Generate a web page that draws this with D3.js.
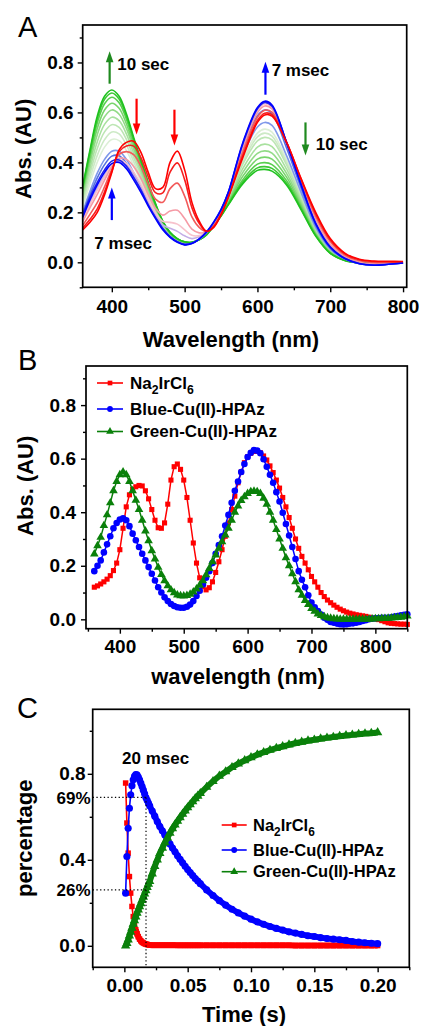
<!DOCTYPE html>
<html lang="en">
<head>
<meta charset="UTF-8">
<title>Cu(II)-HPAz spectra and kinetics</title>
<script src="https://cdn.jsdelivr.net/npm/d3@7"></script>
<style>
  body { margin: 0; background: #fff; }
</style>
</head>
<body>
<div id="container"></div>
<script>
// ---------------- panel A : spectra from 7 msec to 10 sec ----------------
const wavelengthsA = [360,370,380,390,400,410,420,430,440,450,460,470,480,490,500,510,520,530,540,550,560,580,600,610,620,640,660,680,700,720,740,760,780,800];

const specR1 = [.13,.16,.20,.27,.36,.45,.48,.485,.44,.36,.295,.30,.40,.445,.37,.24,.165,.125,.14,.19,.26,.42,.56,.59,.585,.48,.335,.20,.095,.037,.012,.005,.004,.003];
const specR2 = [.137,.172,.214,.282,.365,.443,.466,.465,.419,.342,.279,.278,.361,.398,.331,.219,.156,.124,.143,.193,.263,.428,.568,.597,.591,.48,.332,.194,.09,.034,.01,.003,.002,.002];
const specR3 = [.148,.192,.239,.302,.372,.432,.443,.431,.384,.313,.253,.24,.295,.317,.265,.182,.14,.123,.147,.197,.267,.441,.581,.609,.601,.48,.326,.184,.083,.029,.006,-.001,0,.001];
const specP4 = [.163,.219,.272,.329,.383,.417,.412,.384,.336,.272,.217,.189,.205,.208,.175,.133,.118,.122,.153,.203,.273,.459,.599,.626,.614,.48,.319,.171,.072,.023,0,-.006,-.004,-.001];
const specP5 = [.17,.232,.288,.342,.388,.41,.396,.361,.312,.252,.199,.164,.16,.153,.13,.108,.107,.121,.156,.206,.276,.468,.608,.634,.621,.48,.315,.164,.067,.019,-.002,-.009,-.006,-.002];
const specL6 = [.174,.239,.297,.349,.391,.406,.388,.349,.299,.241,.189,.15,.136,.124,.106,.095,.102,.121,.158,.208,.278,.473,.613,.638,.625,.48,.313,.16,.064,.018,-.004,-.01,-.007,-.002];
const specB1 = [.18,.25,.31,.36,.395,.40,.375,.33,.28,.225,.175,.13,.10,.08,.07,.075,.093,.12,.16,.21,.28,.48,.62,.645,.63,.48,.31,.155,.06,.015,-.006,-.012,-.008,-.003];
const specB2 = [.19,.26,.32,.37,.405,.41,.385,.34,.29,.23,.18,.135,.103,.083,.072,.076,.094,.122,.162,.212,.28,.475,.615,.64,.625,.478,.31,.156,.062,.016,-.005,-.011,-.008,-.003];
const specB3 = [.193,.27,.338,.391,.425,.427,.397,.347,.293,.235,.181,.134,.102,.082,.071,.076,.093,.119,.158,.207,.273,.459,.587,.61,.596,.458,.297,.148,.057,.014,-.006,-.011,-.007,-.003];
const specC1 = [.201,.284,.357,.412,.445,.445,.412,.359,.302,.241,.185,.136,.103,.083,.072,.076,.092,.118,.155,.202,.264,.429,.542,.56,.548,.427,.279,.139,.053,.013,-.005,-.01,-.006,-.003];
const specC2 = [.221,.316,.401,.461,.492,.487,.448,.386,.323,.256,.195,.142,.107,.085,.074,.077,.092,.117,.154,.20,.259,.412,.517,.533,.521,.41,.269,.134,.05,.012,-.004,-.009,-.006,-.003];
const specC3 = [.234,.336,.428,.491,.522,.514,.47,.403,.336,.266,.201,.145,.109,.086,.075,.077,.092,.116,.153,.198,.256,.402,.502,.517,.505,.40,.263,.131,.049,.011,-.004,-.008,-.006,-.003];
const specC4 = [.246,.356,.456,.522,.551,.54,.492,.42,.349,.275,.207,.149,.111,.088,.076,.078,.091,.115,.152,.197,.253,.393,.486,.50,.49,.39,.257,.128,.047,.011,-.004,-.008,-.005,-.002];
const specC5 = [.259,.376,.483,.552,.581,.567,.514,.437,.362,.285,.213,.152,.113,.089,.078,.078,.091,.114,.151,.194,.248,.376,.461,.473,.463,.373,.247,.123,.045,.01,-.003,-.007,-.005,-.002];
const specC6 = [.271,.396,.511,.583,.61,.593,.536,.454,.375,.294,.219,.156,.115,.091,.079,.079,.091,.113,.149,.192,.243,.36,.436,.446,.437,.356,.237,.118,.042,.009,-.003,-.006,-.004,-.002];
const specC7 = [.283,.414,.536,.61,.637,.617,.555,.469,.387,.303,.224,.159,.116,.092,.08,.079,.091,.112,.148,.189,.239,.345,.413,.421,.413,.341,.228,.114,.04,.008,-.003,-.005,-.004,-.002];
const specC8 = [.293,.43,.558,.635,.661,.639,.573,.483,.397,.311,.229,.162,.118,.094,.081,.08,.09,.111,.146,.187,.235,.331,.393,.399,.391,.327,.22,.11,.038,.008,-.002,-.005,-.004,-.002];
const specC9 = [.30,.442,.574,.653,.678,.654,.586,.493,.405,.316,.233,.164,.119,.094,.082,.08,.09,.11,.146,.186,.232,.322,.378,.383,.376,.317,.214,.107,.037,.007,-.002,-.004,-.003,-.002];
const specG = [.305,.45,.585,.665,.69,.665,.595,.50,.41,.32,.235,.165,.12,.095,.082,.08,.09,.11,.145,.185,.23,.315,.368,.372,.365,.31,.21,.105,.036,.007,-.002,-.004,-.003,-.002];

// ---------------- panel B : reference spectra ----------------
const wavelengthsB = d3.range(360, 851, 5);
const absNa2IrCl6 = [
  .12,.125,.132,.14,.15,.163,.182,.21,.26,.34,
  .42,.465,.485,.495,.50,.498,.48,.45,.41,.37,
  .342,.34,.36,.43,.52,.57,.58,.56,.52,.455,
  .37,.285,.21,.155,.122,.11,.118,.14,.175,.215,
  .26,.31,.36,.41,.46,.51,.55,.585,.607,.62,
  .627,.628,.622,.61,.595,.573,.548,.52,.49,.455,
  .42,.38,.34,.30,.265,.235,.21,.185,.16,.14,
  .12,.10,.085,.072,.062,.053,.045,.038,.032,.027,
  .023,.02,.017,.015,.013,.011,.008,.005,.002,-.001,
  -.005,-.009,-.013,-.015,-.016,-.017,-.018,-.018,-.019];
const absBlueCu = [
  .18,.20,.22,.25,.28,.31,.34,.36,.373,.377,
  .37,.348,.32,.295,.27,.245,.22,.195,.17,.145,
  .12,.10,.082,.068,.057,.05,.045,.043,.043,.047,
  .055,.068,.087,.107,.13,.155,.18,.21,.245,.277,
  .31,.35,.39,.435,.48,.515,.55,.58,.606,.622,
  .632,.63,.62,.598,.57,.54,.51,.475,.44,.398,
  .356,.313,.27,.225,.18,.148,.12,.09,.063,.045,
  .031,.018,.006,-.002,-.01,-.013,-.016,-.018,-.019,-.018,
  -.016,-.015,-.013,-.01,-.006,-.003,0,.002,.004,.005,
  .006,.006,.006,.008,.01,.012,.015,.017,.019];
const absGreenCu = [
  .244,.275,.306,.35,.39,.435,.48,.515,.54,.55,
  .54,.515,.48,.445,.41,.37,.33,.293,.256,.225,
  .194,.167,.144,.125,.11,.099,.091,.088,.087,.089,
  .094,.102,.113,.127,.144,.166,.19,.215,.24,.265,
  .29,.315,.34,.37,.40,.423,.444,.458,.47,.477,
  .478,.477,.47,.452,.43,.40,.37,.335,.30,.265,
  .23,.20,.17,.14,.11,.09,.07,.055,.04,.03,
  .02,.014,.01,.006,.004,.002,.001,0,0,0,
  0,0,0,0,0,0,0,.001,.002,.002,
  .003,.003,.004,.005,.006,.007,.008,.01,.012];

// ---------------- panel C : kinetics ----------------
const timeC = [
  .001,.002,.003,.004,.005,.006,.007,.008,.009,.010,.011,.012,.013,.014,.015,.016,.017,.018,.019,.020,
  .022,.024,.026,.028,.030,.032,.034,.036,.038,.040,.042,.044,.046,.048,.050,.052,.054,.056,.058,.060,
  .065,.070,.075,.080,.085,.090,.095,.100,.105,.110,.115,.120,.125,.130,.135,.140,
  .145,.150,.155,.160,.165,.170,.175,.180,.185,.190,.195,.200];
const fracNa2IrCl6 = [
  .757,.571,.431,.322,.245,.183,.136,.10,.075,.056,.042,.031,.023,.017,.013,.01,.008,.006,.005,.004,
  .003,.003,.003,.003,.003,.003,.003,.003,.003,.003,.002,.002,.002,.002,.002,.002,.002,.002,.002,.002,
  .002,.002,.002,.002,.002,.002,.002,.002,.002,.002,.002,.002,.002,.002,
  .001,.001,.001,.001,.001,.001,.001,.001,.001,.001,.001,.001,.001,.001];
const fracBlueCu = [
  .245,.415,.547,.64,.702,.745,.772,.788,.796,.795,.785,.772,.757,.741,.724,.707,.69,.677,.664,.651,
  .627,.603,.578,.555,.535,.515,.493,.474,.455,.437,.419,.402,.386,.37,.355,.341,.327,.313,.301,.289,
  .26,.234,.21,.189,.17,.153,.138,.124,.111,.10,.09,.081,.073,.065,.059,.053,
  .047,.043,.038,.034,.031,.028,.025,.02,.017,.014,.012,.01];
const fracGreenCu = [
  0,.012,.028,.046,.064,.083,.101,.118,.135,.152,.167,.182,.197,.212,.227,.242,.257,.272,.287,.30,
  .335,.37,.40,.43,.455,.48,.502,.525,.545,.563,.58,.597,.613,.628,.643,.657,.671,.685,.697,.709,
  .738,.765,.79,.81,.83,.847,.862,.876,.889,.90,.91,.919,.927,.935,.942,.948,
  .954,.958,.963,.967,.971,.975,.978,.981,.984,.987,.989,.992];

// ---------------- drawing ----------------
const width = 421, height = 1026;
const FONT = '"Liberation Sans", Arial, Helvetica, sans-serif';

const svg = d3.select('#container').append('svg')
  .attr('width', width)
  .attr('height', height)
  .attr('font-family', FONT);

function makePanel(box, xDomain, yDomain) {
  const x = d3.scaleLinear().domain(xDomain).range([box.left, box.right]);
  const y = d3.scaleLinear().domain(yDomain).range([box.bottom, box.top]);
  const g = svg.append('g');
  return { box, x, y, g };
}

function drawAxes(p, cfg) {
  const { box, x, y } = p;
  const style = sel => sel
    .attr('font-family', FONT)
    .attr('font-size', 19)
    .attr('font-weight', 'bold');

  const xMaj = svg.append('g').attr('transform', `translate(0,${box.bottom})`)
    .call(d3.axisBottom(x).tickValues(cfg.xMajor).tickSize(5).tickPadding(cfg.xPad).tickFormat(cfg.xFormat))
    .call(style);
  const xMin = svg.append('g').attr('transform', `translate(0,${box.bottom})`)
    .call(d3.axisBottom(x).tickValues(cfg.xMinor).tickSize(3).tickFormat(''));
  const yMaj = svg.append('g').attr('transform', `translate(${box.left},0)`)
    .call(d3.axisLeft(y).tickValues(cfg.yMajor).tickSize(5).tickPadding(cfg.yPad).tickFormat(cfg.yFormat))
    .call(style);
  const yMin = svg.append('g').attr('transform', `translate(${box.left},0)`)
    .call(d3.axisLeft(y).tickValues(cfg.yMinor).tickSize(3).tickFormat(''));

  [xMaj, xMin, yMaj, yMin].forEach(a => {
    a.select('.domain').remove();
    a.selectAll('line').attr('stroke', '#000').attr('stroke-width', 1.4);
  });

  svg.append('rect')
    .attr('x', box.left).attr('y', box.top)
    .attr('width', box.right - box.left).attr('height', box.bottom - box.top)
    .attr('fill', 'none').attr('stroke', '#000').attr('stroke-width', 1.7);

  svg.append('text')
    .attr('x', cfg.xTitlePos[0]).attr('y', cfg.xTitlePos[1])
    .attr('text-anchor', 'middle').attr('font-size', 22).attr('font-weight', 'bold')
    .text(cfg.xTitle);
  svg.append('text')
    .attr('transform', `translate(${cfg.yTitlePos[0]},${cfg.yTitlePos[1]}) rotate(-90)`)
    .attr('text-anchor', 'middle').attr('font-size', 22).attr('font-weight', 'bold')
    .text(cfg.yTitle);
  svg.append('text')
    .attr('x', cfg.letterPos[0]).attr('y', cfg.letterPos[1])
    .attr('font-size', 29)
    .text(cfg.letter);
}

// subscripted chemical name inside a <text>
function chemLabel(sel) {
  sel.append('tspan').text('Na');
  sel.append('tspan').attr('font-size', '0.72em').attr('dy', 5).text('2');
  sel.append('tspan').attr('dy', -5).text('IrCl');
  sel.append('tspan').attr('font-size', '0.72em').attr('dy', 5).text('6');
}

function drawLegend(items, lx0, lx1, tx, fontSize) {
  items.forEach(it => {
    svg.append('line')
      .attr('x1', lx0).attr('x2', lx1).attr('y1', it.ly).attr('y2', it.ly)
      .attr('stroke', it.color).attr('stroke-width', 1.6);
    svg.append('path')
      .attr('transform', `translate(${(lx0 + lx1) / 2},${it.ly})`)
      .attr('d', d3.symbol().type(it.symbol).size(it.size)())
      .attr('fill', it.color);
    const t = svg.append('text')
      .attr('x', tx).attr('y', it.ty)
      .attr('font-size', fontSize).attr('font-weight', 'bold');
    if (it.chem) chemLabel(t); else t.text(it.label);
  });
}

// ===== Panel A =====
const pA = makePanel({ left: 82.7, right: 406.7, top: 25, bottom: 287.3 }, [360, 805], [-0.1, 0.95]);

const spectraA = [
  [specC2, '#dcefd6'], [specC3, '#cdeac6'], [specC4, '#bde6b4'], [specC5, '#a9e19f'],
  [specC6, '#92db87'], [specC7, '#78d56c'], [specC8, '#58cf4e'], [specC9, '#3bc933'],
  [specG, '#1ec21e'], [specC1, '#7f98ea'], [specB3, '#5570e0'], [specL6, '#c3aee6'],
  [specP5, '#f7c2cc'], [specP4, '#f59aa5'], [specR3, '#f25a5a'], [specR2, '#f51e1e'],
  [specB2, '#2020f0'], [specB1, '#0000ff'], [specR1, '#ff0000']
];

const lineA = d3.line()
  .x((d, i) => pA.x(wavelengthsA[i]))
  .y(d => pA.y(d))
  .curve(d3.curveCatmullRom.alpha(0.5));

pA.g.selectAll('path.spec')
  .data(spectraA)
  .join('path')
  .attr('class', 'spec')
  .attr('d', d => lineA(d[0]))
  .attr('fill', 'none')
  .attr('stroke', d => d[1])
  .attr('stroke-width', 1.6);

// arrows and time labels (data units)
const arrowsA = [
  { wl: 397, from: 0.715, to: 0.845, color: '#1f8a1f' },
  { wl: 434, from: 0.655, to: 0.512, color: '#ff0000' },
  { wl: 486, from: 0.611, to: 0.468, color: '#ff0000' },
  { wl: 611, from: 0.671, to: 0.803, color: '#0000ff' },
  { wl: 666, from: 0.56, to: 0.428, color: '#1f8a1f' },
  { wl: 400, from: 0.169, to: 0.30, color: '#0000ff' }
];
const labelsA = [
  { wl: 407.5, v: 0.77, text: '10 sec' },
  { wl: 619.5, v: 0.747, text: '7 msec' },
  { wl: 680, v: 0.448, text: '10 sec' },
  { wl: 376, v: 0.053, text: '7 msec' }
];

arrowsA.forEach(a => {
  const x = pA.x(a.wl), y0 = pA.y(a.from), y1 = pA.y(a.to);
  const dir = y1 < y0 ? -1 : 1;
  pA.g.append('line')
    .attr('x1', x).attr('x2', x).attr('y1', y0).attr('y2', y1 - dir * 9)
    .attr('stroke', a.color).attr('stroke-width', 2.2);
  pA.g.append('path')
    .attr('d', `M${x},${y1} L${x - 3.8},${y1 - dir * 11} L${x + 3.8},${y1 - dir * 11} Z`)
    .attr('fill', a.color);
});
labelsA.forEach(l => {
  pA.g.append('text')
    .attr('x', pA.x(l.wl)).attr('y', pA.y(l.v))
    .attr('font-size', 17).attr('font-weight', 'bold')
    .text(l.text);
});

drawAxes(pA, {
  xMajor: [400, 500, 600, 700, 800], xMinor: [450, 550, 650, 750], xFormat: d3.format('d'), xPad: 7,
  yMajor: [0, 0.2, 0.4, 0.6, 0.8], yMinor: [-0.1, 0.1, 0.3, 0.5, 0.7, 0.9], yFormat: d3.format('.1f'), yPad: 4,
  xTitle: 'Wavelength (nm)', xTitlePos: [231, 346.7],
  yTitle: 'Abs. (AU)', yTitlePos: [31, 148.8],
  letter: 'A', letterPos: [18, 37.3]
});

// ===== Panel B =====
const pB = makePanel({ left: 86, right: 407.3, top: 366, bottom: 628.7 }, [347, 850], [-0.035, 0.946]);

const seriesB = [
  { values: absNa2IrCl6, color: '#ff0000', symbol: d3.symbolSquare, size: 26 },
  { values: absBlueCu, color: '#0000ff', symbol: d3.symbolCircle, size: 34 },
  { values: absGreenCu, color: '#0a800a', symbol: d3.symbolTriangle, size: 32 }
];

const lineB = d3.line()
  .x((d, i) => pB.x(wavelengthsB[i]))
  .y(d => pB.y(d));

seriesB.forEach(s => {
  const g = pB.g.append('g');
  g.append('path')
    .attr('d', lineB(s.values))
    .attr('fill', 'none').attr('stroke', s.color).attr('stroke-width', 1.5);
  g.selectAll('path.m')
    .data(s.values)
    .join('path')
    .attr('class', 'm')
    .attr('transform', (d, i) => `translate(${pB.x(wavelengthsB[i])},${pB.y(d)})`)
    .attr('d', d3.symbol().type(s.symbol).size(s.size)())
    .attr('fill', s.color);
});

drawAxes(pB, {
  xMajor: [400, 500, 600, 700, 800], xMinor: [350, 450, 550, 650, 750, 850], xFormat: d3.format('d'), xPad: 6,
  yMajor: [0, 0.2, 0.4, 0.6, 0.8], yMinor: [0.1, 0.3, 0.5, 0.7, 0.9], yFormat: d3.format('.1f'), yPad: 5,
  xTitle: 'wavelength (nm)', xTitlePos: [238, 684],
  yTitle: 'Abs. (AU)', yTitlePos: [33, 485.8],
  letter: 'B', letterPos: [18, 370]
});

drawLegend([
  { ly: 383, ty: 389, color: '#ff0000', symbol: d3.symbolSquare, size: 22, chem: true },
  { ly: 409, ty: 415, color: '#0000ff', symbol: d3.symbolCircle, size: 26, label: 'Blue-Cu(II)-HPAz' },
  { ly: 431.5, ty: 437, color: '#0a800a', symbol: d3.symbolTriangle, size: 26, label: 'Green-Cu(II)-HPAz' }
], 97, 123, 130, 17);

// ===== Panel C =====
const pC = makePanel({ left: 92.7, right: 409.3, top: 709.3, bottom: 967.3 }, [-0.025, 0.225], [-0.1, 1.1]);

// bandFrom: index from which the dense markers merge into a solid band
const seriesC = [
  { values: fracNa2IrCl6, color: '#ff0000', symbol: d3.symbolSquare, size: 30, bandFrom: 8 },
  { values: fracBlueCu, color: '#0000ff', symbol: d3.symbolCircle, size: 40, bandFrom: 7 },
  { values: fracGreenCu, color: '#0a800a', symbol: d3.symbolTriangle, size: 38, bandFrom: 0 }
];

const lineC = d3.line()
  .x(d => pC.x(d[0]))
  .y(d => pC.y(d[1]));

seriesC.forEach(s => {
  const g = pC.g.append('g');
  const pts = s.values.map((v, i) => [timeC[i], v]);
  g.append('path')
    .attr('d', lineC(pts))
    .attr('fill', 'none').attr('stroke', s.color).attr('stroke-width', 1.6);
  g.append('path')
    .attr('d', lineC(pts.slice(s.bandFrom)))
    .attr('fill', 'none').attr('stroke', s.color).attr('stroke-width', 6)
    .attr('stroke-linejoin', 'round');
  g.selectAll('path.m')
    .data(pts)
    .join('path')
    .attr('class', 'm')
    .attr('transform', d => `translate(${pC.x(d[0])},${pC.y(d[1])})`)
    .attr('d', d3.symbol().type(s.symbol).size(s.size)())
    .attr('fill', s.color);
});

// 20 msec guide lines
const tMark = 0.0171, levels = [0.69, 0.26];
levels.forEach(v => {
  pC.g.append('line')
    .attr('x1', pC.box.left).attr('x2', pC.x(tMark))
    .attr('y1', pC.y(v)).attr('y2', pC.y(v))
    .attr('stroke', '#000').attr('stroke-width', 1.2).attr('stroke-dasharray', '1.3,2.4');
});
pC.g.append('line')
  .attr('x1', pC.x(tMark)).attr('x2', pC.x(tMark))
  .attr('y1', pC.y(levels[0])).attr('y2', pC.box.bottom)
  .attr('stroke', '#000').attr('stroke-width', 1.2).attr('stroke-dasharray', '1.3,2.4');

pC.g.append('text')
  .attr('x', pC.x(-0.0018)).attr('y', pC.y(0.847))
  .attr('font-size', 17).attr('font-weight', 'bold')
  .text('20 msec');

levels.forEach(v => {
  svg.append('text')
    .attr('x', 90.5).attr('y', pC.y(v)).attr('dy', '0.36em')
    .attr('text-anchor', 'end').attr('font-size', 17).attr('font-weight', 'bold')
    .text(`${Math.round(v * 100)}%`);
});

drawAxes(pC, {
  xMajor: [0, 0.05, 0.1, 0.15, 0.2], xMinor: [-0.025, 0.025, 0.075, 0.125, 0.175, 0.225], xFormat: d3.format('.2f'), xPad: 6,
  yMajor: [0, 0.4, 0.8], yMinor: [0.2, 0.6, 1.0], yFormat: d3.format('.1f'), yPad: 2,
  xTitle: 'Time (s)', xTitlePos: [244, 1022],
  yTitle: 'percentage', yTitlePos: [32, 838.3],
  letter: 'C', letterPos: [17, 718]
});

drawLegend([
  { ly: 825, ty: 830.5, color: '#ff0000', symbol: d3.symbolSquare, size: 22, chem: true },
  { ly: 850, ty: 855.5, color: '#0000ff', symbol: d3.symbolCircle, size: 26, label: 'Blue-Cu(II)-HPAz' },
  { ly: 871.7, ty: 877, color: '#0a800a', symbol: d3.symbolTriangle, size: 26, label: 'Green-Cu(II)-HPAz' }
], 221.7, 246.7, 253, 16.5);
</script>
</body>
</html>
